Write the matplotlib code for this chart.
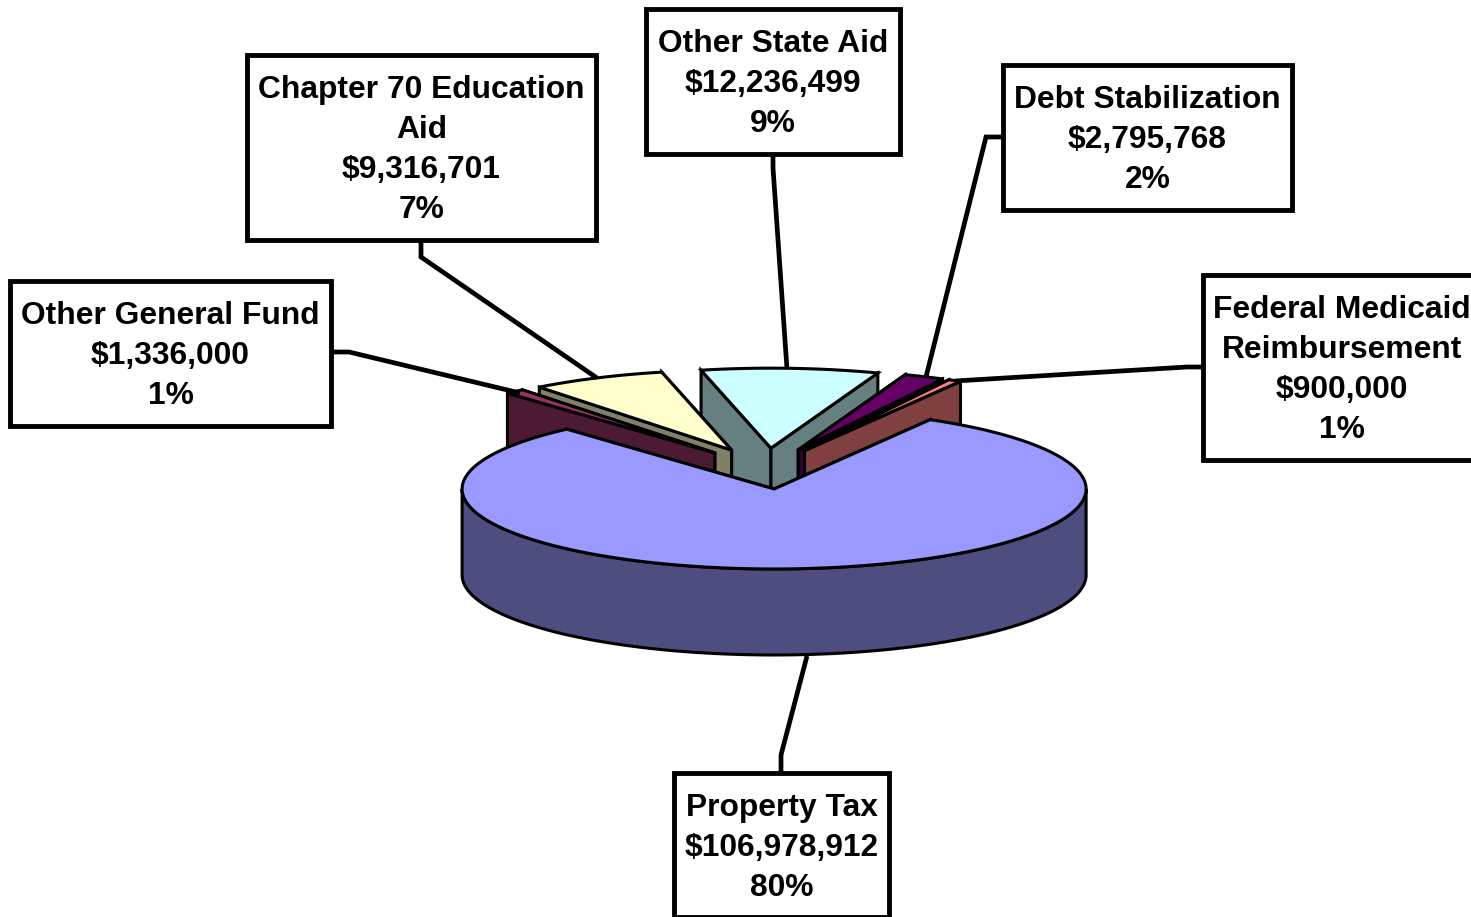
import numpy as np
import matplotlib
matplotlib.use('Agg')
import matplotlib.pyplot as plt
from matplotlib.patches import Polygon, Rectangle

plt.rcParams['font.family'] = ['Liberation Sans', 'DejaVu Sans']

# clockwise from the start angle
names = ['Federal Medicaid\nReimbursement', 'Debt Stabilization', 'Other State Aid',
         'Chapter 70 Education\nAid', 'Other General Fund', 'Property Tax']
values = [900000, 2795768, 12236499, 9316701, 1336000, 106978912]
percents = ['1%', '2%', '9%', '7%', '1%', '80%']
top_colors = ['#FF8080', '#660066', '#CCFFFF', '#FFFFCC', '#993366', '#9999FF']
side_colors = ['#804040', '#330033', '#668080', '#808066', '#4D1A33', '#4D4D80']

# label boxes: left, top, right, bottom
boxes = [(1203, 275, 1480, 460), (1003, 65, 1292, 210), (646, 9, 900, 154),
         (247, 55, 596, 240), (10, 281, 331, 426), (674, 773, 889, 917)]
leaders = [[(1203, 367), (1187, 367), (955, 381)],
           [(1003, 137), (986, 137), (926, 377)],
           [(773, 154), (773, 168), (787, 369)],
           [(421, 240), (421, 257), (597, 378)],
           [(331, 352), (349, 352), (520, 393)],
           [(781, 773), (781, 755), (807, 656)]]

cx, cy = 766, 468.6
rx, ry = 312, 80
depth = 86
explode = 0.256
start = 60

fig = plt.figure(figsize=(14.71, 9.17), dpi=100)
ax = fig.add_axes([0, 0, 1, 1])
ax.set_xlim(0, 1471)
ax.set_ylim(917, 0)
ax.axis('off')


def rim(x0, y0, t):
    t = np.radians(t)
    return np.column_stack([x0 + rx * np.cos(t), y0 - ry * np.sin(t)])


def shape(pts, color, z):
    ax.add_patch(Polygon(pts, closed=True, facecolor=color, edgecolor='black',
                         linewidth=2.2, joinstyle='miter', zorder=z))


def draw_slice(i, t0, t1, z):
    mid = np.radians((t0 + t1) / 2)
    x0 = cx + explode * rx * np.cos(mid)
    y0 = cy - explode * ry * np.sin(mid)
    apex = np.array([[x0, y0]])
    down = np.array([0, depth])
    # the wall nearer the back goes first so the other one covers it
    for t in sorted([t0, t1], key=lambda a: abs(a - 90)):
        edge = np.vstack([rim(x0, y0, np.array([t])), apex])
        shape(np.vstack([edge, edge[::-1] + down]), side_colors[i], z)
    if t0 < 0:
        arc = rim(x0, y0, np.linspace(-180, 0, 200))
        shape(np.vstack([arc, arc[::-1] + down]), side_colors[i], z)
    shape(np.vstack([apex, rim(x0, y0, np.linspace(t0, t1, 200))]), top_colors[i], z)


shares = np.array(values) / sum(values) * 360
edges = start + np.cumsum(np.r_[0, shares])
for i in [2, 1, 0, 3, 4]:
    draw_slice(i, edges[i], edges[i + 1], z=2 + 0.1 * [2, 1, 0, 3, 4].index(i))
# property tax wraps round the front of the pie
draw_slice(5, edges[5] - 360, edges[6] - 360, z=3)

for name, val, pct, box, line in zip(names, values, percents, boxes, leaders):
    x = [p[0] for p in line]
    y = [p[1] for p in line]
    ax.plot(x, y, color='black', linewidth=3.4, solid_joinstyle='miter',
            solid_capstyle='butt', zorder=4)
    l, t, r, b = box
    ax.add_patch(Rectangle((l, t), r - l, b - t, facecolor='white', edgecolor='black',
                           linewidth=3.5, zorder=5))
    label = '%s\n$%s\n%s' % (name, format(val, ','), pct)
    label = label.replace('$', r'\$')
    tx = (l + r) / 2
    if name.startswith('Federal'):
        tx = 1342
    ty = (t + b) / 2 + 2.5
    if name == 'Property Tax':
        ty = 848
    ax.text(tx, ty, label, ha='center', va='center', fontsize=22.9, fontweight='bold',
            linespacing=1.44, color='black', zorder=6)

fig.savefig('out.png', dpi=100, facecolor='white')
